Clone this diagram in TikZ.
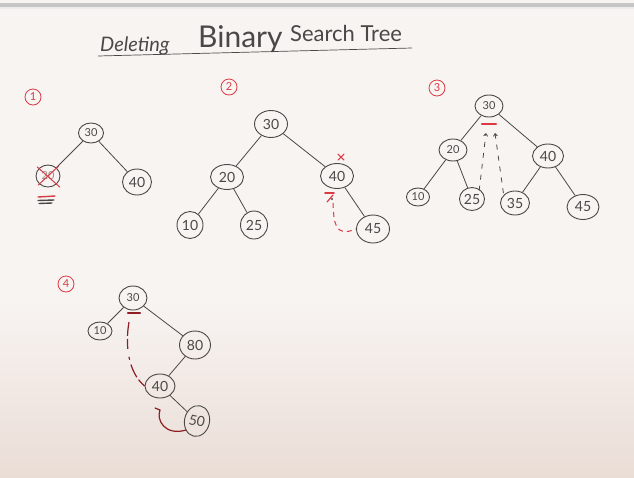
\documentclass[tikz,border=0pt]{standalone}
\usepackage{fontspec}
\setmainfont{Lato}
\usetikzlibrary{shapes.geometric,arrows.meta}
\definecolor{board}{HTML}{F8F4F2}
\definecolor{boardlow}{HTML}{EADDD6}
\definecolor{ink}{HTML}{4A4846}
\definecolor{redink}{HTML}{DA3A44}
\definecolor{darkred}{HTML}{8E1E24}
\tikzset{
  tnode/.style={ellipse, draw=ink, line width=0.9pt, inner sep=0pt, text=ink, font=\fontsize{11}{11}\selectfont},
  big/.style={font=\fontsize{14}{14}\selectfont},
  edge/.style={draw=ink, line width=0.8pt},
  tag/.style={circle, draw=redink, line width=0.8pt, inner sep=0pt, minimum size=16pt, text=redink, font=\fontsize{11}{11}\selectfont},
  redmark/.style={draw=redink, line width=1pt, line cap=round},
  trace/.style={draw=ink, line width=0.8pt, dash pattern=on 5pt off 6pt},
}
\begin{document}
\begin{tikzpicture}[x=1pt, y=-1pt]
  % board
  \useasboundingbox (0,0) rectangle (634,477);
  \fill[board] (0,0) rectangle (634,300);
  \shade[top color=board, bottom color=boardlow] (0,300) rectangle (634,477);
  \fill[gray!45] (0,3) rectangle (634,6.5);
  \fill[gray!15] (0,6.5) rectangle (634,9);

  % heading
  \node[anchor=base west, text=ink, font=\itshape\fontsize{20}{20}\selectfont, inner sep=0pt] (tdel) at (100,51) {Deleting};
  \node[anchor=base west, text=ink, font=\fontsize{30}{30}\selectfont, inner sep=0pt] (tbin) at (198,47) {Binary};
  \node[anchor=base west, text=ink, font=\fontsize{22}{22}\selectfont, inner sep=0pt] (tsrch) at (290,41) {Search Tree};
  \coordinate (ul1) at (98,56);
  \coordinate (ul2) at (412,48);
  \draw[ink, line width=0.7pt] (ul1) -- (ul2);

  % ---------- case 1 ----------
  \node[tag] (c1) at (33,97) {1};
  \node[tnode, minimum width=25pt, minimum height=20pt] (a30) at (91,133) {30};
  \node[tnode, minimum width=24pt, minimum height=22pt] (a20) at (48,176) {\textcolor{ink!60}{20}};
  \node[tnode, big, minimum width=29pt, minimum height=26pt] (a40) at (137,182) {40};
  \draw[edge] (a30) -- (a20);
  \draw[edge] (a30) -- (a40);
  \draw[redmark] (a20.north west) ++(-2,-1) -- ([shift={(3,3)}]a20.south east);
  \draw[redmark] (a20.south west) ++(-1,1) -- ([shift={(2,-2)}]a20.north east);
  \draw[redmark, line width=1.4pt] (38,197) -- (55,196);
  \draw[ink, line width=1.4pt, line cap=round] (38,200.5) -- (54,200);
  \draw[ink, line width=1.4pt, line cap=round] (39,203.5) -- (52,203);

  % ---------- case 2 ----------
  \node[tag] (c2) at (229,87) {2};
  \node[tnode, big, minimum width=33pt, minimum height=27pt] (b30) at (271,124) {30};
  \node[tnode, big, minimum width=33pt, minimum height=25pt] (b20) at (227,177) {20};
  \node[tnode, big, minimum width=33pt, minimum height=25pt] (b40) at (337,176) {40};
  \node[tnode, big, minimum width=26pt, minimum height=27pt] (b10) at (190,225) {10};
  \node[tnode, big, minimum width=27pt, minimum height=28pt] (b25) at (254,225) {25};
  \node[tnode, big, minimum width=33pt, minimum height=28pt] (b45) at (373,229) {45};
  \draw[edge] (b30) -- (b20);
  \draw[edge] (b30) -- (b40);
  \draw[edge] (b20) -- (b10);
  \draw[edge] (b20) -- (b25);
  \draw[edge] (b40) -- (b45);
  % removed key and its replacement
  \draw[redmark] (b40.north) ++(1,-9) -- ++(6,6);
  \draw[redmark] (b40.north) ++(7,-9) -- ++(-6,6);
  \draw[redmark, line width=1.6pt] (325,193) -- (334,193);
  \draw[redmark, line width=1.2pt] (333,195) -- (327,202);
  \fill[ink] (332,199) circle (1.2pt);
  \coordinate (b2top) at (333,203);
  \draw[redink, line width=1pt, dash pattern=on 5pt off 4pt]
    (b2top) .. controls (334,222) and (334,238) .. (b45.west);

  % ---------- case 3 ----------
  \node[tag] (c3) at (437,88) {3};
  \node[tnode, minimum width=28pt, minimum height=22pt] (d30) at (489,106) {30};
  \node[tnode, minimum width=28pt, minimum height=22pt] (d20) at (453,150) {20};
  \node[tnode, big, minimum width=31pt, minimum height=24pt] (d40) at (548,156) {40};
  \node[tnode, minimum width=23pt, minimum height=18pt] (d10) at (418,197) {10};
  \node[tnode, big, minimum width=25pt, minimum height=23pt] (d25) at (472,199) {25};
  \node[tnode, big, minimum width=29pt, minimum height=24pt] (d35) at (515,203) {35};
  \node[tnode, big, minimum width=32pt, minimum height=25pt] (d45) at (583,207) {45};
  \draw[edge] (d30) -- (d20);
  \draw[edge] (d30) -- (d40);
  \draw[edge] (d20) -- (d10);
  \draw[edge] (d20) -- (d25);
  \draw[edge] (d40) -- (d35);
  \draw[edge] (d40) -- (d45);
  \draw[redmark, line width=2.2pt] (482,124) -- (496,124);
  \coordinate (d3l) at (486,133);
  \coordinate (d3r) at (495,133);
  \draw[trace, -{Straight Barb[length=2.5pt,width=4pt]}] (d25.north east) ++(-2,0) -- (d3l);
  \draw[trace, -{Straight Barb[length=2.5pt,width=4pt]}] (d35.north west) ++(-1,-1) -- (d3r);

  % ---------- case 4 ----------
  \node[tag] (c4) at (66,284) {4};
  \node[tnode, minimum width=28pt, minimum height=24pt] (e30) at (133,298) {30};
  \node[tnode, minimum width=24pt, minimum height=18pt] (e10) at (100,331) {10};
  \node[tnode, big, minimum width=31pt, minimum height=28pt] (e80) at (195,345) {80};
  \node[tnode, big, minimum width=30pt, minimum height=24pt] (e40) at (160,386) {40};
  \node[tnode, big, minimum width=25pt, minimum height=31pt, rotate=-12] (e50) at (197,421) {50};
  \draw[edge] (e30) -- (e10);
  \draw[edge] (e30) -- (e80);
  \draw[edge] (e80) -- (e40);
  \draw[edge] (e40) -- (e50);
  \draw[draw=darkred, line width=2.4pt, line cap=round] (128,313) -- (140,313);
  \coordinate (e4top) at (129,322);
  \draw[darkred, line width=1.2pt, dash pattern=on 14pt off 3pt on 10pt off 8pt on 3pt off 5pt]
    (e4top) .. controls (125,345) and (128,372) .. (e40.west);
  \coordinate (e4hook) at (155,408);
  \draw[darkred, line width=1.2pt, line cap=round]
    (e4hook) -- (160,410) .. controls (156,420) and (165,436) .. (e50.south west);
\end{tikzpicture}
\end{document}
